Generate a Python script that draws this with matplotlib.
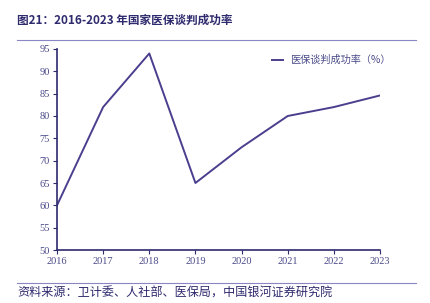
import matplotlib
matplotlib.use("Agg")
import matplotlib.pyplot as plt
from matplotlib.lines import Line2D

years = [2016, 2017, 2018, 2019, 2020, 2021, 2022, 2023]
rates = [60, 82, 94, 65, 73, 80, 82, 84.6]
yticks = [50, 55, 60, 65, 70, 75, 80, 85, 90, 95]
title = "图21：2016-2023 年国家医保谈判成功率"
legend_label = "医保谈判成功率（%）"
source = "资料来源：卫计委、人社部、医保局，中国银河证券研究院"

W, H = 431, 303
fig = plt.figure(figsize=(W / 100, H / 100), dpi=100)
ax = fig.add_axes([57 / W, 1 - 250 / H, (380 - 57) / W, (250 - 49) / H])

line_color = "#4A3F8E"
axis_color = "#2E2A6E"
tick_color = "#4A4A8A"
cjk = ["Noto Sans CJK SC", "DejaVu Sans"]
serif = ["Liberation Serif", "DejaVu Serif"]

ax.plot(years, rates, color=line_color, lw=1.4, label=legend_label)
ax.set_xlim(2016, 2023)
ax.set_ylim(50, 95)
ax.set_xticks(years)
ax.set_yticks(yticks)
for s in ["top", "right"]:
    ax.spines[s].set_visible(False)
for s in ["left", "bottom"]:
    ax.spines[s].set_color(axis_color)
    ax.spines[s].set_linewidth(1.2)
ax.tick_params(axis="both", colors=axis_color, length=3, width=0.8, labelsize=7.5,
               labelcolor=tick_color, pad=2)
for lab in ax.get_xticklabels() + ax.get_yticklabels():
    lab.set_family(serif)

leg = ax.legend(loc="upper right", bbox_to_anchor=(1.06, 1.015), frameon=False,
                prop={"family": cjk, "size": 7.3}, handlelength=1.1, handletextpad=0.7)
for t in leg.get_texts():
    t.set_color(tick_color)

fig.text(17 / W, 1 - 20 / H, title, fontsize=8.4, fontweight="bold", color=axis_color,
         family=cjk, va="center", ha="left")
fig.add_artist(Line2D([17 / W, 416 / W], [1 - 40 / H, 1 - 40 / H], color="#8A85C4", lw=0.8))
fig.add_artist(Line2D([17 / W, 416 / W], [1 - 283 / H, 1 - 283 / H], color="#8A85C4", lw=0.8))
fig.text(17 / W, 1 - 293 / H, source, fontsize=8.7, style="italic", color=axis_color,
         family=cjk, va="center", ha="left")

fig.savefig("out.png", dpi=100)
